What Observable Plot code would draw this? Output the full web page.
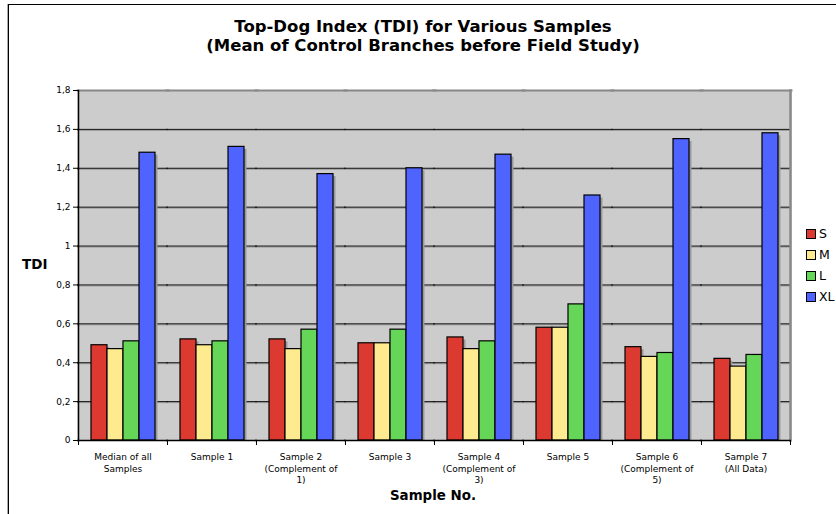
<!DOCTYPE html>
<html>
<head>
<meta charset="utf-8">
<script src="https://cdn.jsdelivr.net/npm/d3@7"></script>
<script src="https://cdn.jsdelivr.net/npm/@observablehq/plot@0.6"></script>
<style>
  html, body { margin: 0; padding: 0; background: #fff; overflow: hidden; }
  body { width: 836px; height: 514px; position: relative; font-family: "DejaVu Sans", Verdana, sans-serif; }
  #border { position: absolute; left: 8px; top: 4px; width: 900px; height: 600px; border: 1.5px solid #000; box-shadow: -1px 0 0 #aaa; }
  #title { position: absolute; left: 0; top: 17px; width: 846px; text-align: center; font-weight: bold; font-size: 16.5px; line-height: 19px; color: #000; }
  #chart { position: absolute; left: 0; top: 80px; }
  #ylab { position: absolute; left: 22px; top: 256px; font-weight: bold; font-size: 13.5px; }
  #xlab { position: absolute; left: 0; width: 866px; top: 488px; text-align: center; font-weight: bold; font-size: 13.4px; }
  #legend { position: absolute; left: 806px; top: 223px; font-size: 12.5px; }
  #legend .item { display: flex; align-items: center; height: 21px; }
  #legend .sw { width: 8px; height: 8px; border: 1px solid #000; margin-right: 3px; }
</style>
</head>
<body>
<div id="border"></div>
<div id="title">Top-Dog Index (TDI) for Various Samples<br>(Mean of Control Branches before Field Study)</div>
<div id="chart"></div>
<div id="ylab">TDI</div>
<div id="xlab">Sample No.</div>
<div id="legend"></div>
<script>
const categories = ["Median", "S1", "S2", "S3", "S4", "S5", "S6", "S7"];
const categoryLabels = [
  "Median of all\nSamples",
  "Sample 1",
  "Sample 2\n(Complement of\n1)",
  "Sample 3",
  "Sample 4\n(Complement of\n3)",
  "Sample 5",
  "Sample 6\n(Complement of\n5)",
  "Sample 7\n(All Data)"
];
const series = ["S", "M", "L", "XL"];
const seriesColors = ["#dc3a30", "#ffeb8f", "#66d658", "#4f63ff"];
const valuesS  = [0.49, 0.52, 0.52, 0.50, 0.53, 0.58, 0.48, 0.42];
const valuesM  = [0.47, 0.49, 0.47, 0.50, 0.47, 0.58, 0.43, 0.38];
const valuesL  = [0.51, 0.51, 0.57, 0.57, 0.51, 0.70, 0.45, 0.44];
const valuesXL = [1.48, 1.51, 1.37, 1.40, 1.47, 1.26, 1.55, 1.58];
const yTicks = [0, 0.2, 0.4, 0.6, 0.8, 1, 1.2, 1.4, 1.6, 1.8];

const seriesValues = [valuesS, valuesM, valuesL, valuesXL];
const data = [];
categories.forEach((c, i) => {
  series.forEach((s, j) => data.push({cat: c, series: s, value: seriesValues[j][i]}));
});
const labelOf = new Map(categories.map((c, i) => [c, categoryLabels[i]]));
const fmt = d => d3.format(".1~f")(d).replace(".", ",");
const first = categories[0], last = categories[categories.length - 1];

const chart = Plot.plot({
  width: 836,
  height: 434,
  marginTop: 10,
  marginLeft: 76,
  marginRight: 44,
  marginBottom: 74,
  style: {fontFamily: "DejaVu Sans, Verdana, sans-serif", background: "transparent", overflow: "visible"},
  fx: {domain: categories, padding: 0, label: null},
  x: {domain: series, paddingInner: 0, paddingOuter: 0.75, axis: null},
  y: {domain: [0, 1.8], axis: null},
  color: {domain: series, range: seriesColors},
  marks: [
    Plot.frame({fill: "#cccccc", stroke: null, insetLeft: -1, insetRight: -1}),
    Plot.ruleY(yTicks.slice(1, -1), {stroke: "#999", dy: 1, insetLeft: -1, insetRight: -1}),
    Plot.ruleY(yTicks.slice(1, -1), {stroke: "#111", strokeWidth: 1, insetLeft: -1, insetRight: -1}),
    Plot.frame({anchor: "top", stroke: "#888", strokeWidth: 2, insetLeft: -1, insetRight: -1}),
    Plot.frame({anchor: "right", fx: last, stroke: "#888", strokeWidth: 2.5}),
    Plot.barY(data, {fx: "cat", x: "series", y: "value", fill: "#999", dx: 2.5, dy: 2.5, insetBottom: 2.5}),
    Plot.barY(data, {fx: "cat", x: "series", y: "value", fill: "series", stroke: "#000", strokeWidth: 1.2}),
    Plot.ruleY([0], {stroke: "#000", strokeWidth: 1.5, insetLeft: -1, insetRight: -1}),
    Plot.frame({anchor: "left", fx: first, stroke: "#000", strokeWidth: 1.5}),
    Plot.frame({anchor: "left", stroke: "#000", strokeWidth: 1, insetTop: 350, insetBottom: -4}),
    Plot.frame({anchor: "right", fx: last, stroke: "#000", strokeWidth: 1, insetTop: 350, insetBottom: -4}),
    Plot.axisY(yTicks, {anchor: "left", tickSize: 5, tickPadding: 3, fontSize: 9, tickFormat: fmt, label: null, stroke: "#000"}),
    Plot.axisFx({anchor: "bottom", tickSize: 0, tickPadding: 11, fontSize: 9, lineHeight: 1.3, tickFormat: d => labelOf.get(d), label: null})
  ]
});
document.getElementById("chart").appendChild(chart);

const legend = document.getElementById("legend");
series.forEach((s, i) => {
  const item = document.createElement("div");
  item.className = "item";
  const sw = document.createElement("div");
  sw.className = "sw";
  sw.style.background = seriesColors[i];
  const t = document.createElement("span");
  t.textContent = s;
  item.appendChild(sw);
  item.appendChild(t);
  legend.appendChild(item);
});
</script>
</body>
</html>
